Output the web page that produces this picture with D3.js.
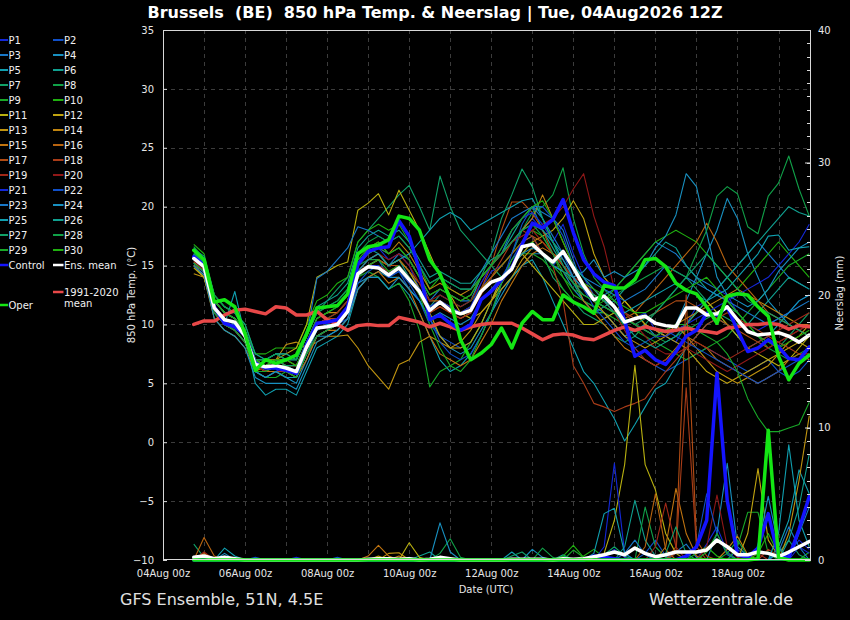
<!DOCTYPE html>
<html><head><meta charset="utf-8">
<script src="https://cdn.jsdelivr.net/npm/d3@7"></script>
<style>
body{margin:0;background:#000;}
svg{display:block;}
text{font-family:"DejaVu Sans",sans-serif;}
</style>
</head><body>
<svg id="c" width="850" height="620"></svg>
<script>
// ---------------- DATA ----------------
const titleText = "Brussels  (BE)  850 hPa Temp. & Neerslag | Tue, 04Aug2026 12Z";
const sourceLeft = "GFS Ensemble, 51N, 4.5E";
const sourceRight = "Wetterzentrale.de";
const xTickHours = [0, 48, 96, 144, 192, 240, 288, 336];
const xTickLabels = ["04Aug 00z","06Aug 00z","08Aug 00z","10Aug 00z","12Aug 00z","14Aug 00z","16Aug 00z","18Aug 00z"];
const tempTicks = [-10,-5,0,5,10,15,20,25,30,35];
const precipTicks = [0,10,20,30,40];
const stepHours = d3.range(18, 379, 6); // 04Aug 18z ... 20Aug 18z, 6-hourly

const memberNames = d3.range(1,31).map(i => "P" + i);
const memberColors = ["#1428d8","#1050c8","#1878c8","#1890c0","#10a0b0","#10a090","#10a068","#10a048","#18a828","#20b010",
                      "#b8b010","#c0a410","#c09410","#c08410","#c07410","#b86410","#b04c14","#a83c18","#a02818","#901818"];

const memberTemp = [
/*P1*/ [15.5,14.5,11,10,9.5,8.5,6,5.5,6,6.5,6,8,9.5,10,10.5,11.5, 15,16,16.5,15.5,16,15,13,11,12,11,10.5,11, 13,14.5,15,16,18,19,18,17,18.5,16,14,12.5, 12,11,10,10.5,11,9.5,9,8.5,10,11.5,12,13,12.5,11,10,9.5,10,10.5,11,12,12.5],
/*P2*/ [15.8,15,12,11,10.5,9,7,6.5,7,6.5,6,8.5,10,10.5,10,11, 14,15,15.5,14,14.5,13,12,10,9,8.5,8,8.5, 10,12,14,15.5,17,17.5,16,15,16,14,12,11, 11,10,9,8,7,6.5,6,6.5,7,7.5,8,7.5,7,6.5,6,6.5,7,6,5.5,6,7],
/*P3*/ [16,15,12,11,11,9.5,7,6,6.5,6,5.5,7.5,9,9.5,10,11, 14.5,15.5,16,15,16,15.5,14,12,13,12.5,12,12, 14,15,16,18,19,20,19.5,19,18,15.5,13,12, 12.5,13,14,15,16,17,16.5,16,15,14,13.5,13,14,15,16,17,16,15,14,13.5,13],
/*P4*/ [15.2,14.5,11.5,10.5,10,9,6.5,6,6,5.5,5,7,9,9,9.5,10.5, 13.5,14,14.5,14,14,13,12,10.5,9,8,7.5,8, 9.5,11,12.5,14,15,16,16,15,14.5,13,12,11.5, 11,10,9,9.5,10,9,9.5,10,12,14,16,18,20.7,19,16,14,12,11,10,9.5,9],
/*P5*/ [15,14,11,10,12.8,9,5,4,4.5,4.5,4,6,8,8.5,9,10, 13,14,14,13,13.5,12.5,11,9,7,6,6.5,7.5, 9,11,13,14,15,15.5,14,12,10,8,6,5, 3.5,2,0.1,1.5,3,4.5,5,6.5,8,9,10,10.5,10,9,8,8.5,9,10,11,12,12.5],
/*P6*/ [16.2,15.5,12,11,10.5,9.5,7,7,7.5,7,7,9,11,11.5,12,13, 16,16.5,16,15,15.5,14,13,11.5,12.5,12,11.5,12, 14,15,16,17.5,19,20,18,16.5,15,13.5,12,11, 11.5,12,13,14,15,16,17,16.5,15,14,13,12.5,12,11,10,11,12,13,14,13.5,13],
/*P7*/ [16.5,15.5,12.5,11.5,11,9.5,7.5,7,7.5,7.5,7,9,11,12,13,14, 17,18,19,20,21,21.8,20,18,22.6,20,18,17, 16,15,14,15,16,17,16,14,13,12,11,10.5, 10,9,8.5,9,10,11,12,13,14,13,12,11,10.5,10,9.5,9,8.5,8,9,10,11],
/*P8*/ [16,15,12,11,10.5,9,6.5,6,6.5,6.5,6,8,10,10.5,11,12, 15,15.5,15.5,15,15.5,14.5,13,11.5,12,11.5,11,11.5, 13,14,15,16,18,19.5,20,21,23.3,19,16,14, 13,12,11,10,9.5,9,8.5,9,9.5,10,10.5,11,11.5,11,10,9,8,7.5,7,7.5,8],
/*P9*/ [15.5,14.8,11,10,9.5,8.5,6,5.5,5.5,6,5.5,7.5,9,9.5,10,11, 14,14.5,14,13,13.5,12,9.5,4.7,6,6.5,7,8.5, 10,12,13.5,15,16,16,15.5,14.5,13,12,11.5,11, 11,10.5,10,9.5,9,8.5,8,7.5,7,7.5,8,8.5,9,10,11,12,13,14,15,15.5,16],
/*P10*/ [16.8,16,12.5,11.5,11,10,7.5,7.5,8,8,8,10,12,12.5,13.5,14, 17,18,18.5,18,18.5,17,15,13,14,13,12.5,12, 13,14,15,16,17,18,17.5,16,14,12.5,12,11.5, 12,13,14,15,16,17,17.5,18,17.5,17,16,15,14,13,14,15,16,17,16,15,14],
/*P11*/ [15,14,11,10,10,9,7,7,7,7.5,8,10,14,14.5,15,15.3, 19.7,20.3,21.1,19.3,21.4,19.7,18,16,14,12.5,11,10.5, 11,12,13.5,15,16,15,14,13,12,11,10,10, 10.5,11,12,11,10,9.5,9,9.5,10,11,12,11,10,9,8,7.5,7,6.5,7,8,9],
/*P12*/ [14.8,14,11,10,9.5,8.5,6,6,6.5,6,6,7.5,9,9.5,10,11, 14,15,15.5,15,15.5,14.5,13,11,9,8,8,8.5, 10,12,14,15,16,17,17.5,18,19,20.5,19,16, 14,13,12,11,10,9.5,9,8.5,8,7,6,5.5,5,5.5,6,6.5,7,7.5,8,8.5,8],
/*P13*/ [14.3,14,10.5,9.5,9,8,6,6.5,7,8.3,8.5,8,8.5,9,9,9.1, 8,6.5,5.5,4.5,6.6,7,8.5,9,8.5,8,8.5,9.5, 11,12,13,14,15.5,16.5,17,16,15,14,13,12, 11,10,9,8.5,8,8.5,9,10,9,8,7,6,5.5,5,5.5,6,6.5,7.5,8.5,9,10],
/*P14*/ [15,14.5,11.5,10.5,10,9,7,6.5,7,7,6.5,8.5,10.5,11,11,12, 15,16.5,17,16,17,16,14.5,13,13.5,13,12.5,13, 14,15,16,17,18,19,21,19,17,15,13.5,12.5, 12,11,10.5,10,9.5,9,9.5,10,10.5,11,11.5,12,12.5,13,12.5,12,11.5,11,10.5,10,10],
/*P15*/ [15.3,14.5,11,10,9.5,8.5,6.5,6,6,5.5,5.5,7,9,9.5,9.5,10.5, 13,14,14.5,13.5,14,13,11,9,7.5,7,6.5,7, 8.5,10,12,13.5,15,16,16.5,16,15.5,14,12,11, 10,9,8,7.5,7,6.5,7,8,9,8.5,8,7,6.5,6,5.5,5,5.5,6,7,7.5,7],
/*P16*/ [15.8,15,12,11,10.5,9.5,7,6.5,7,6.5,6.5,8,10,10.5,10.5,11.5, 14.5,15.5,16,15,15.5,14.5,13.5,12,12,11.5,11,11.5, 13,14,15,16,17,17.5,17,16,15,14,13,12, 11.5,11,10.5,11,12,13,14,15,16,17,18.6,17,15,14,13,12,11,10.5,10,9.5,9],
/*P17*/ [15.5,14.8,11.5,10.5,10,9,6.5,6,6.5,6,6,8,10,10.5,10.5,11.5, 14.5,15,15.5,15,15,14,12.5,11,11.5,11,10.5,11, 13,15,18,20.4,20.4,19.5,18,16,14.5,13.5,13,12.5, 12,11.5,11,10.5,10.5,11,11.5,12,12,11.5,11,10.5,10,9.5,9,8.5,8,8.5,9,9.5,10],
/*P18*/ [15,14.2,11,10,9.5,8.5,6,5.5,6,6,5.5,7.5,9,9.5,10,11, 14,15,15,14.5,15,14,12.5,11,11.5,11,10.5,11, 12.5,14,15.5,17,18,17.5,16,15,12,6.5,5,3.3, 3,2.6,3,3.3,3.7,4.9,6,7,8,9,10,10.5,11,10.5,10,9.5,9,8.5,8,7.5,7.5],
/*P19*/ [15.6,15,12,11,10.5,9,7,6.5,7,6.5,6.5,8.5,10,10.5,11,12, 15,16,16.5,16,16.5,15.5,14,12.5,13,12.5,12,12.5, 14,15,16,17,17.5,18,17,16,15,14,13.5,13, 12,11,9.5,8,7,6.5,7,7.5,8,8.5,8,7.5,7,7.5,8,8.5,9,9.5,10,10.5,11],
/*P20*/ [15.4,14.6,11.5,10.5,10,9,6.5,6,6.5,6,6,8,9.5,10,10.5,11.5, 14.5,15.5,16,15.5,16,15,13.5,12,12.5,12,11.5,12, 13.5,15,16,17,17.5,18,18.5,19,20,21.5,22.8,19.2, 16.6,13,11,10,9,8,7.5,7.5,8,7.5,7,6.5,6,6.5,7,7.5,8,8.5,9,9.5,10],
/*P21*/ [15.7,15,11.5,10.5,10,9,6.5,6.5,6.5,6,6,8,9.5,10,10,11, 14,15,15,14,15,14,13,11.5,12,11.5,11,11.5, 13.5,15,16.5,18,19,19.5,18.5,17,15.5,14,13,12, 11.5,11,10.5,10,9.5,9,9,9.5,10,10.5,11,11.5,12,12.5,13,13.5,14,15,16,17,18.5],
/*P22*/ [15.2,14.4,11,10,9.5,8.5,6,5.5,6,5.5,5.5,7.5,9,9.5,10,10.5, 13.5,14.5,15,14,14.5,13.5,12,10.5,8.5,7.5,7,7.5, 9,11,13.5,16,18.5,20,20,19,17.5,15,13,11.5, 10.5,9.5,8.5,8,8.5,9,9.5,9,8.5,8,7.5,7,6.5,6,5.5,5,5.5,6,6.5,7,7.5],
/*P23*/ [16,15.2,12,11,10.5,9.5,7,7,7.5,7,7,9,13.9,14.5,15.5,16.5, 18.3,18,17.5,17,17.5,16.5,15,13.5,14,13.5,13,13, 14.5,16,17.5,19,19.5,20,19,17.5,16,15,14,13.5, 13,12.5,12,12.5,13,14,15,14.5,14,13.5,13,12.5,12,11.5,11,10.5,10,10.5,11,11.5,12],
/*P24*/ [15,14.2,10.5,9.5,9,8,5.5,5,5,5,4.5,6.5,8.5,9,9.5,10.5, 13,14,14,13,14,13,12,10.5,11,10.5,10,10.5, 12,13,14,15,16,16.5,16,15,14.5,14,14.5,15.5, 14,14.5,14,14.5,15,16.5,17.5,19.3,22.8,21.7,17.8,14,12.5,12,11.5,12,13,14.5,15.5,16.5,17],
/*P25*/ [15.5,14.8,11.5,10.5,10,9,6,5.5,6,5.5,5.5,7.5,9.5,10,10,11, 14.5,15.5,16,15,15.5,16,17,18,19,19.5,19,18, 18.5,19,19.5,20,20.5,20.7,19,17,15.5,14,13,12.5, 12,11.5,11,11.5,12,12.5,13,13.5,13,12.5,12,12.5,13,14,15,16,17.5,17.6,16.3,16.5,16.6],
/*P26*/ [16.4,15.8,12.5,11.5,11,10,7.5,7,7.5,7.5,7,9.5,11.5,12,12.5,13.5, 16.5,17.5,18,17.5,18,17,15.5,14,14.5,14,13.5,13.5, 14.5,15.5,16,17,18,18.5,18,17,16,15,14,13, 12,11,10,9,8.5,8,8.5,9,10,11,12,13,14,15,16,17,18,19,20,19.5,19.2],
/*P27*/ [16,15.3,12,11,10.5,9.5,7,6.5,7,6.5,6.5,8.5,10.5,11,11.5,12.5, 15.5,16,16.5,16,16.5,15.5,14,12.5,13,12.5,12,12.5, 14,16,19,21,23.2,21.7,19,17,15,13.5,12.5,12, 11.5,11,10.5,10,10.5,11,12,13,14,15,16,15,14,13,12,11.5,11,10.5,10,9.5,9],
/*P28*/ [16.6,15.6,12.5,11.5,11,9.5,7,7,7.5,7,7,9,11,11.5,12,13, 16,17,17.5,17,17.5,16.5,15,13.5,14,13.5,13,13, 14,15,16,17,18,18.5,17.5,16,14.5,13.5,13,12.5, 12,12.5,13,13.5,14,14.5,15,14.5,14,16,18,20.9,21.7,21.1,18.3,17.7,20.9,22,24.3,21.5,19.2],
/*P29*/ [15.2,14.5,11,10,9.5,8.5,6,6,6.5,6,5.5,7.5,9,9.5,10,11, 14,15,15.5,14.5,15,14,12.5,10,8,6.5,6,7, 9,11,13.5,15.5,16.5,17,16,15,14,13,12.5,12, 11.5,11,10.5,10,9.5,9,9.5,10,10,9.5,9,8.5,7.5,6,3.7,2.1,0.9,0.9,1.2,1.5,3.4],
/*P30*/ [16.2,15.4,12,11,10.5,9.5,7,6.5,7,7,6.5,8.5,10.5,11,11.5,12.5, 15.5,16.5,17,16,16.5,15.5,14,12.5,13,12.5,12,12.5, 14,15,16.5,18,19,20,20.5,19,17,15,13.5,13, 12.5,12,11.5,11,11,11.5,12,12.5,13,13.5,14,13,12,11,10,9,8.5,8,8.5,9,9.5]
];

const controlTemp = [15.75,15,11.5,10.1,9.8,9.1,6.7,6.3,6.3,6.1,5.85,8.3,10.1,10.2,10.4,11.5, 15.1,16.2,16.5,16.6,18.8,17.5,14.6,10.4,10.8,10.1,9.5,10, 12.1,12.8,13.8,14.8,16.8,18.6,18.2,18.9,20.6,17.8,15.5,14.3, 13.6,13.3,10.3,7.3,7.8,7,6.6,7.7,9,9.5,10.95,10.8,11.5,9.5,7.7,8,8.7,8.1,7.1,7,8.1];
const operTemp = [16.3,15.5,11.9,12.1,11.5,9.2,6.1,7,6.7,7,7.4,9.2,11.4,11.5,11.6,12.6, 16,16.6,16.75,17.2,19.2,19,18,15.5,14.3,12.1,8.7,7, 7.55,8.3,9.7,8,10.1,11.1,10.4,10.4,12.5,11.9,11.5,10.95, 13.3,13.1,13.1,13.8,15.5,15.6,14.9,13.5,12.9,12.6,11.5,10.1,12.4,12.6,12.5,11.5,10.7,7.3,5.3,6.7,7.4];
const ensMeanTemp = [15.6,14.9,11.4,10.4,10.2,9,6.6,6.4,6.5,6.3,6,8.1,9.7,9.8,10,11.1, 14.3,14.9,14.8,14.2,14.8,13.8,12.8,11.2,11.9,11.2,10.9,11.2, 12.8,13.6,13.9,14.7,16.6,16.8,16,15.3,16.2,14.8,13.3,12.1, 12.4,11.5,10.2,10.5,10.7,10.1,9.9,9.8,11.4,11.4,10.8,10.9,11.5,10.4,9.4,9.1,9.2,9.3,9,8.5,9.1];
const climateTemp = [10,10.3,10.3,10.8,11.2,11.3,11.1,10.9,11.5,11.4,10.8,10.8,11.1,10.4,10,9.5, 9.9,10,9.9,9.9,10.6,10.4,10.2,9.8,10.1,9.8,9.5,9.8, 10,10.1,10.1,10.1,9.7,9.2,8.7,9.1,9.2,9.1,8.8,8.7, 9.1,9.5,9.8,9.5,9.8,9.6,9.4,9.5,9.7,9.5,9.4,9.25,9.7,9.8,10,10,10.1,10,9.6,9.9,9.8];

// precipitation (mm), members as sparse [stepIndex, mm] lists (all other steps 0)
const memberPrecip = [
/*P1*/ [[40,0.3],[41,0.8],[42,0.2],[50,1.2],[51,2.5],[52,0.6],[58,0.5],[59,1.5],[60,0.8]],
/*P2*/ [[14,0.2],[44,0.5],[45,1.5],[46,0.3],[53,0.8],[54,0.2]],
/*P3*/ [[3,0.3],[21,0.2],[47,0.6],[48,1.2],[49,0.2],[59,2],[60,4]],
/*P4*/ [[33,0.8],[34,0.2],[51,2],[52,7.3],[53,1],[54,0.3]],
/*P5*/ [[3,0.9],[4,0.3],[31,0.6],[57,1],[58,3],[59,6.8],[60,5]],
/*P6*/ [[22,0.3],[23,0.6],[42,1],[43,4.5],[44,1.5],[45,0.3]],
/*P7*/ [[0,1.2],[1,0.2],[36,0.3],[40,0.4],[41,1],[42,0.3],[57,0.5],[58,1.5],[59,0.4]],
/*P8*/ [[24,0.5],[25,1.6],[26,0.2],[44,4],[45,1],[46,0.2]],
/*P9*/ [[53,1],[54,3.6],[55,3.6],[56,0.5],[60,0.6]],
/*P10*/ [[38,0.3],[39,0.8],[40,0.2],[49,0.5],[50,1],[51,0.3]],
/*P11*/ [[21,1.3],[22,0.2],[40,0.5],[41,3],[42,7.2],[43,14.7],[44,7.2],[45,5.3],[46,2],[47,0.5]],
/*P12*/ [[18,0.3],[54,2],[55,6.9],[56,1.5],[57,0.3]],
/*P13*/ [[19,0.5],[20,0.55],[58,2],[59,6],[60,10.9]],
/*P14*/ [[1,0.5],[20,0.3],[52,0.8],[53,1.8],[54,0.4]],
/*P15*/ [[17,0.3],[18,1.1],[19,0.3],[46,1],[47,5.4],[48,2],[49,0.3]],
/*P16*/ [[1,1.7],[2,0.3],[44,1],[45,5],[46,0.8]],
/*P17*/ [[47,1],[48,20],[49,1.5],[50,0.3]],
/*P18*/ [[1,0.3],[47,0.5],[48,13],[49,1],[56,0.8],[57,0.3]],
/*P19*/ [[1,0.6],[45,1],[46,4.3],[47,1],[55,0.5]],
/*P20*/ [[50,1],[51,4.9],[52,1],[53,0.2]],
/*P21*/ [[10,0.2],[40,1],[41,7.3],[42,0.5],[59,1],[60,0.5]],
/*P22*/ [[6,0.2],[49,1],[50,5],[51,2],[52,0.4]],
/*P23*/ [[42,0.5],[43,1.5],[44,0.4],[57,0.6],[58,2.5],[59,1]],
/*P24*/ [[3,0.5],[24,2.8],[25,0.6],[55,1],[56,4.8],[57,1]],
/*P25*/ [[39,0.5],[40,3.5],[41,3.9],[42,0.5],[57,2],[58,8.7],[59,3],[60,1]],
/*P26*/ [[36,0.4],[58,1.5],[59,4],[60,8]],
/*P27*/ [[31,0.3],[32,0.6],[46,0.5],[47,2.5],[48,0.5]],
/*P28*/ [[34,0.9],[35,0.2],[52,0.5],[53,1.5],[54,0.3]],
/*P29*/ [[37,0.75],[38,0.2],[50,0.6],[51,2],[52,0.5]],
/*P30*/ [[36,0.3],[37,1.1],[38,0.2],[55,0.5],[56,2],[57,0.4]]
];
const controlPrecip = [0,0,0,0,0,0,0,0,0,0,0,0,0,0,0,0, 0,0,0,0,0,0,0,0,0,0,0,0, 0,0,0,0,0,0,0,0,0,0,0,0.3, 0.2,0.1,0,0,0,0,0,0,0.3,1,3,14.1,4.5,0.4,0.2,0.9,3.5,0.25,0.2,2.3,4.8];
const operPrecip = [0,0,0,0,0,0,0,0,0,0,0,0,0,0,0,0, 0,0,0,0,0,0,0,0,0,0,0,0, 0,0,0,0,0,0,0,0,0,0,0,0, 0,0,0,0,0,0,0,0,0,0,0,0,0,0,0,0.1,9.8,0.2,0,0,0];
const ensMeanPrecip = [0.2,0.3,0.1,0.2,0.1,0,0,0,0,0,0,0,0,0,0,0, 0,0.05,0.1,0.1,0.05,0.1,0,0.05,0.2,0.1,0,0, 0,0,0,0.05,0.05,0.05,0.05,0,0.1,0.05,0.1,0.25, 0.4,0.6,0.4,0.9,0.5,0.25,0.4,0.6,0.6,0.6,0.75,1.5,1.0,0.4,0.4,0.6,0.5,0.25,0.6,1.0,1.4];

const controlColor = "#1414ff", operColor = "#14e614", meanColor = "#ffffff", climColor = "#e84848";

// ---------------- CHART ----------------
const svg = d3.select("#c");
svg.append("rect").attr("width",850).attr("height",620).attr("fill","#000");

const L = 163, R = 811, T = 30, B = 560;
const x = d3.scaleLinear().domain([0, 379]).range([L, R]);
const yT = d3.scaleLinear().domain([-10, 35]).range([B, T]);
const yP = d3.scaleLinear().domain([0, 40]).range([B, T]);

// grid
const grid = svg.append("g").attr("stroke","#3c3c3c").attr("stroke-width",1).attr("stroke-dasharray","4,4");
grid.selectAll("line.v").data(d3.range(24, 379, 24)).join("line")
  .attr("x1", d => Math.round(x(d))+0.5).attr("x2", d => Math.round(x(d))+0.5).attr("y1", T).attr("y2", B);
grid.selectAll("line.h").data(tempTicks.filter(d => d > -10 && d < 35)).join("line")
  .attr("y1", d => Math.round(yT(d))+0.5).attr("y2", d => Math.round(yT(d))+0.5).attr("x1", L).attr("x2", R);

svg.append("clipPath").attr("id","plotclip").append("rect")
  .attr("x", L).attr("y", T-2).attr("width", R-L).attr("height", B-T+4);
const plot = svg.append("g").attr("clip-path","url(#plotclip)");

const lineT = d3.line().x((d,i) => x(stepHours[i])).y(d => yT(d));
const lineP = d3.line().x((d,i) => x(stepHours[i])).y(d => yP(d));

function expand(ev){ const a = stepHours.map(() => 0); ev.forEach(([i,v]) => a[i] = v); return a; }

// member temperatures
memberTemp.forEach((arr, k) => {
  plot.append("path").attr("d", lineT(arr)).attr("fill","none")
    .attr("stroke", memberColors[k % 20]).attr("stroke-width", 1.1).attr("stroke-linejoin","round");
});
// member precipitation
memberPrecip.forEach((ev, k) => {
  plot.append("path").attr("d", lineP(expand(ev))).attr("fill","none")
    .attr("stroke", memberColors[k % 20]).attr("stroke-width", 1.1).attr("stroke-linejoin","round");
});

// bold lines
function bold(data, line, color, w){
  plot.append("path").attr("d", line(data)).attr("fill","none").attr("stroke", color)
    .attr("stroke-width", w).attr("stroke-linejoin","round").attr("stroke-linecap","round");
}
bold(climateTemp, lineT, climColor, 3.5);
bold(controlTemp, lineT, controlColor, 3.5);
bold(controlPrecip, lineP, controlColor, 3.5);
bold(ensMeanTemp, lineT, meanColor, 3.5);
bold(ensMeanPrecip, lineP, meanColor, 3.5);
bold(operTemp, lineT, operColor, 3.5);
bold(operPrecip, lineP, operColor, 3.5);

// frame
svg.append("rect").attr("x", L+0.5).attr("y", T+0.5).attr("width", R-L-1).attr("height", B-T-1)
  .attr("fill","none").attr("stroke","#d8d8d8").attr("stroke-width",1);

// axes
const axL = svg.append("g").attr("transform",`translate(${L},0)`)
  .call(d3.axisLeft(yT).tickValues(tempTicks).tickSize(-4).tickPadding(9).tickFormat(d3.format("d")));
const axR = svg.append("g").attr("transform",`translate(${R},0)`)
  .call(d3.axisRight(yP).tickValues(precipTicks).tickSize(-6).tickPadding(7).tickFormat(d3.format("d")));
const axB = svg.append("g").attr("transform",`translate(0,${B})`)
  .call(d3.axisBottom(x).tickValues(xTickHours).tickSize(0).tickPadding(10).tickFormat((d,i) => xTickLabels[i]));
[axL, axR, axB].forEach(a => {
  a.select(".domain").remove();
  a.selectAll(".tick line").attr("stroke","#d8d8d8");
  a.selectAll("text").attr("fill","#e6e6e6").style("font-size","10px").style("font-family","DejaVu Sans");
});
// right minor ticks (1 mm)
svg.append("g").selectAll("line").data(d3.range(1, 40)).join("line")
  .attr("x1", R-4).attr("x2", R).attr("y1", d => Math.round(yP(d))+0.5).attr("y2", d => Math.round(yP(d))+0.5)
  .attr("stroke","#d8d8d8");

// axis titles
svg.append("text").attr("transform","translate(135,295) rotate(-90)").attr("text-anchor","middle")
  .attr("fill","#e6e6e6").style("font-size","10px").text("850 hPa Temp. (°C)");
svg.append("text").attr("transform","translate(843,293) rotate(-90)").attr("text-anchor","middle")
  .attr("fill","#e6e6e6").style("font-size","10px").text("Neerslag (mm)");
svg.append("text").attr("x",486).attr("y",593).attr("text-anchor","middle")
  .attr("fill","#e6e6e6").style("font-size","10px").text("Date (UTC)");

// title
svg.append("text").attr("x",435).attr("y",18).attr("text-anchor","middle").attr("fill","#ffffff")
  .style("font-size","16px").style("font-weight","bold").style("white-space","pre").text(titleText);
// footer
svg.append("text").attr("x",120).attr("y",605).attr("fill","#e0e0e0").style("font-size","16px").text(sourceLeft);
svg.append("text").attr("x",793).attr("y",605).attr("text-anchor","end").attr("fill","#e0e0e0").style("font-size","16px").text(sourceRight);

// legend
const leg = svg.append("g");
function legItem(x0, x1, y, color, label, w){
  leg.append("line").attr("x1",x0).attr("x2",x1).attr("y1",y).attr("y2",y).attr("stroke",color).attr("stroke-width",w);
  leg.append("text").attr("x",x1+0.5).attr("y",y+3.5).attr("fill","#f0f0f0").style("font-size","10px").text(label);
}
memberNames.forEach((name, k) => {
  const row = Math.floor(k/2), col = k % 2;
  const y = 40 + 15*row;
  if (col === 0) legItem(0, 8, y, memberColors[k % 20], name, 2);
  else legItem(53, 63.5, y, memberColors[k % 20], name, 2);
});
legItem(0, 8, 265, controlColor, "Control", 2.5);
legItem(53, 63.5, 265, meanColor, "Ens. mean", 2.5);
legItem(53, 63.5, 292, climColor, "1991-2020", 2.5);
leg.append("text").attr("x",64).attr("y",307).attr("fill","#f0f0f0").style("font-size","10px").text("mean");
legItem(0, 8, 305, operColor, "Oper", 2.5);
</script>
</body></html>
